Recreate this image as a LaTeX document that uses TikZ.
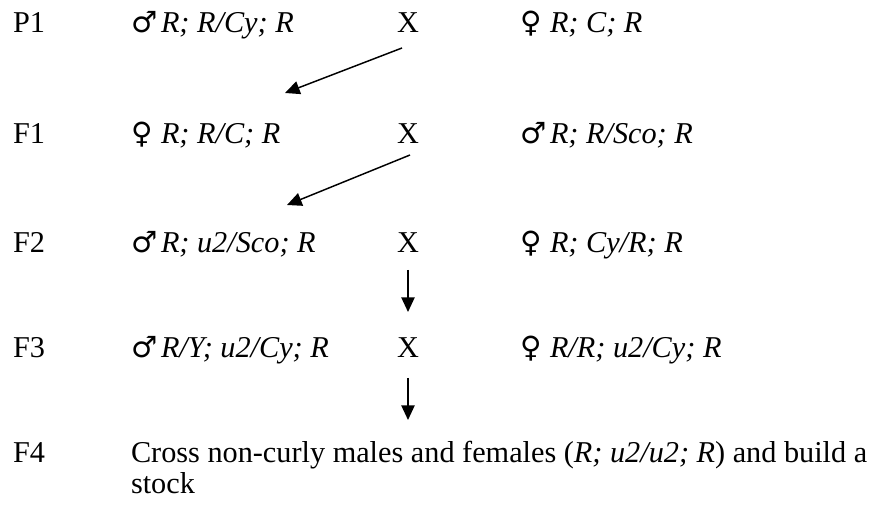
\documentclass[tikz,border=0pt]{standalone}
\usepackage{fontspec}
\setmainfont{Liberation Serif}
\newfontfamily\symfont{DejaVu Sans}
\usetikzlibrary{arrows.meta}
\newcommand{\male}{\makebox[22.5pt][l]{\symfont\fontsize{22}{24}\selectfont ♂}}
\newcommand{\female}{\makebox[22.5pt][l]{\symfont\fontsize{22}{24}\selectfont ♀}}
\tikzset{
  txt/.style={anchor=base west, inner sep=0pt, outer sep=0pt, font=\fontsize{22.7}{26}\selectfont},
  cross/.style={anchor=base, inner sep=0pt, font=\fontsize{22.7}{26}\selectfont},
  arr/.style={line width=1.1pt, -{Triangle[length=11pt, width=10pt]}}
}
\begin{document}
\begin{tikzpicture}[x=0.75pt, y=-0.75pt]
\useasboundingbox (0,0) rectangle (893,516);
% row labels
\node[txt] (lP1) at (13,33) {P1};
\node[txt] (lF1) at (13,144) {F1};
\node[txt] (lF2) at (13,253) {F2};
\node[txt] (lF3) at (13,358) {F3};
\node[txt] (lF4) at (13,463) {F4};
% left genotypes
\node[txt] (gP1a) at (131,33) {\male\textit{R; R/Cy; R}};
\node[txt] (gF1a) at (131,144) {\female\textit{R; R/C; R}};
\node[txt] (gF2a) at (131,253) {\male\textit{R; u2/Sco; R}};
\node[txt] (gF3a) at (131,358) {\male\textit{R/Y; u2/Cy; R}};
% crosses
\node[cross] (xP1) at (408,33) {X};
\node[cross] (xF1) at (408,144) {X};
\node[cross] (xF2) at (408,253) {X};
\node[cross] (xF3) at (408,358) {X};
% right genotypes
\node[txt] (gP1b) at (520,33) {\female\textit{R; C; R}};
\node[txt] (gF1b) at (520,144) {\male\textit{R; R/Sco; R}};
\node[txt] (gF2b) at (520,253) {\female\textit{R; Cy/R; R}};
\node[txt] (gF3b) at (520,358) {\female\textit{R/R; u2/Cy; R}};
% F4 text
\node[txt] (gF4) at (131,463) {Cross non-curly males and females (\textit{R; u2/u2; R}) and build a};
\node[txt] (gF4b) at (131,494) {stock};
% arrow endpoints
\coordinate (s1) at (402,48);  \coordinate (e1) at (285,93);
\coordinate (s2) at (410,155); \coordinate (e2) at (287,205);
\coordinate (s3) at (408,270); \coordinate (e3) at (408,312);
\coordinate (s4) at (408,378); \coordinate (e4) at (408,420);
\draw[arr] (s1) -- (e1);
\draw[arr] (s2) -- (e2);
\draw[arr] (s3) -- (e3);
\draw[arr] (s4) -- (e4);
\end{tikzpicture}
\end{document}
